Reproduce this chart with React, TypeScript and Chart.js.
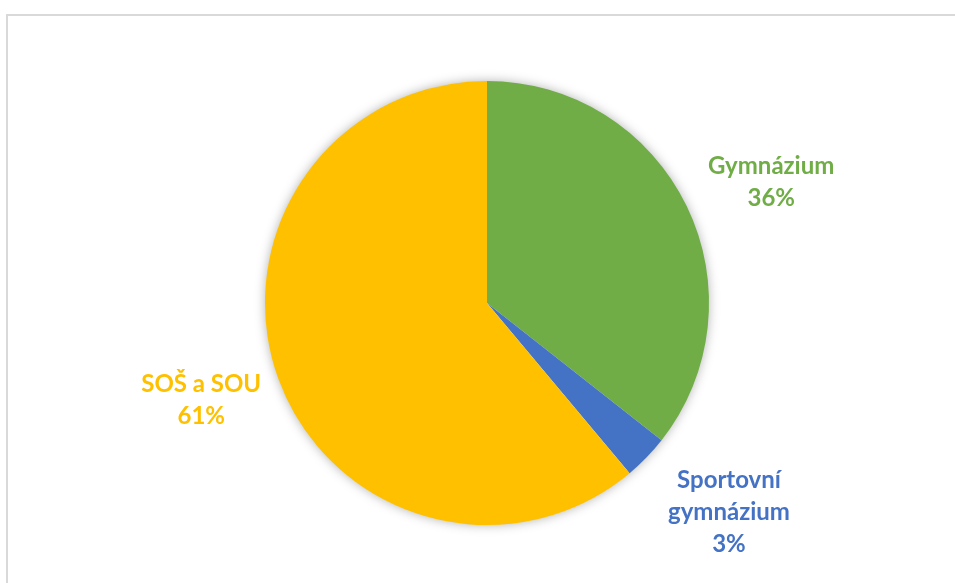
import React, { useEffect, useRef } from "react";
import { Chart, registerables } from "chart.js";

Chart.register(...registerables);

const categories = ["Gymnázium", "Sportovní gymnázium", "SOŠ a SOU"];
const labelLines = [["Gymnázium"], ["Sportovní", "gymnázium"], ["SOŠ a SOU"]];
const values = [35.6, 3.3, 61.1];
const colors = ["#70AD47", "#4472C4", "#FFC000"];

// small manual nudges of the data labels (like hand-placed Excel labels)
const labelNudge = [
  [5, 15],
  [15, -11],
  [3, -8],
];

const framePlugin = {
  id: "frame",
  beforeDraw(chart: any) {
    const ctx = chart.ctx;
    ctx.save();
    ctx.fillStyle = "#ffffff";
    ctx.fillRect(0, 0, chart.width, chart.height);
    ctx.strokeStyle = "#d9d9d9";
    ctx.lineWidth = 2;
    ctx.strokeRect(7, 15, chart.width + 20, chart.height + 20);
    ctx.restore();
  },
  beforeDatasetsDraw(chart: any) {
    const meta = chart.getDatasetMeta(0);
    const arc = meta.data[0];
    if (!arc) return;
    const { x, y, outerRadius } = arc.getProps(["x", "y", "outerRadius"], true);
    const ctx = chart.ctx;
    ctx.save();
    ctx.shadowColor = "rgba(0,0,0,0.35)";
    ctx.shadowBlur = 12;
    ctx.beginPath();
    ctx.arc(x, y, outerRadius - 1, 0, Math.PI * 2);
    ctx.fillStyle = "#ffffff";
    ctx.fill();
    ctx.restore();
  },
  afterDatasetsDraw(chart: any) {
    const meta = chart.getDatasetMeta(0);
    const ctx = chart.ctx;
    const data = chart.data.datasets[0].data as number[];
    const total = data.reduce((a, b) => a + b, 0);
    ctx.save();
    ctx.font = "bold 24px Lato, 'Open Sans', sans-serif";
    ctx.textAlign = "center";
    ctx.textBaseline = "alphabetic";
    const lh = 31;
    const gap = 19;
    meta.data.forEach((el: any, i: number) => {
      const { x, y, startAngle, endAngle, outerRadius } = el.getProps(
        ["x", "y", "startAngle", "endAngle", "outerRadius"],
        true
      );
      const mid = (startAngle + endAngle) / 2;
      const lines = [...labelLines[i], Math.round((data[i] / total) * 100) + "%"];
      const w = Math.max(...lines.map((t) => ctx.measureText(t).width));
      const h = lines.length * 32 - 6;
      const ux = Math.cos(mid);
      const uy = Math.sin(mid);
      const extent = Math.abs(ux) * (w / 2) + Math.abs(uy) * (h / 2);
      const dist = outerRadius + gap + extent;
      const cx = x + ux * dist + labelNudge[i][0];
      const cy = y + uy * dist + labelNudge[i][1];
      ctx.fillStyle = colors[i];
      lines.forEach((t, j) => {
        const by = cy + (j - (lines.length - 1) / 2) * 32 + 8;
        ctx.fillText(t, cx, by);
      });
    });
    ctx.restore();
  },
};

export default function App() {
  const ref = useRef<HTMLCanvasElement | null>(null);
  useEffect(() => {
    document.body.style.margin = "0";
    document.body.style.overflow = "hidden";
    if (!ref.current) return;
    const chart = new Chart(ref.current, {
      type: "pie",
      data: {
        labels: categories,
        datasets: [
          {
            data: values,
            backgroundColor: colors,
            borderWidth: 0,
          },
        ],
      },
      options: {
        animation: false,
        responsive: false,
        layout: { padding: { top: 81, bottom: 58, left: 265, right: 246 } },
        plugins: {
          legend: { display: false },
          tooltip: { enabled: false },
          title: { display: false },
        },
      },
      plugins: [framePlugin],
    });
    return () => chart.destroy();
  }, []);
  return (
    <div style={{ position: "fixed", left: 0, top: 0, width: 955, height: 583 }}>
      <canvas ref={ref} width={955} height={583} style={{ width: 955, height: 583 }} />
    </div>
  );
}
